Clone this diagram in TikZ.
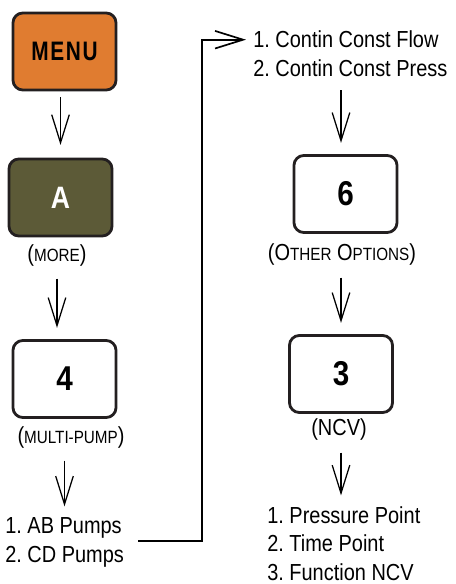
\documentclass[tikz,border=0pt]{standalone}
\usepackage{fontspec}
\setmainfont{Liberation Sans}[FakeStretch=0.86]
\newfontfamily\menufont{Liberation Sans}[FakeStretch=0.78, LetterSpace=6]
\usetikzlibrary{arrows.meta}
\definecolor{orangemenu}{HTML}{E07C30}
\definecolor{vertolive}{HTML}{5C5A37}
\definecolor{bord}{HTML}{231F20}
\newcommand{\petitcap}[1]{{\fontsize{12.6}{14}\selectfont #1}}
\frenchspacing

\begin{document}
\begin{tikzpicture}[
    x=0.025cm, y=-0.025cm,
    touche/.style={draw=bord, line width=2pt, rounded corners=7pt, fill=white,
                   minimum width=2.575cm, minimum height=1.925cm, inner sep=0pt,
                   font=\bfseries\fontsize{24.5}{24.5}\selectfont},
    legende/.style={anchor=base, inner sep=0pt, font=\fontsize{16.5}{20}\selectfont},
    liste/.style={anchor=base west, align=left, inner sep=0pt,
                  font=\fontsize{16.5}{20}\selectfont},
    fleche/.style={-{Straight Barb[length=20pt, width=12.5pt]}, line width=0.9pt,
                   shorten <=9pt, shorten >=8pt},
    lien/.style={fleche, line width=1.2pt}
]
    \useasboundingbox (0,0) rectangle (455,584);

    % colonne gauche
    \node[touche, fill=orangemenu] (menu) at (64.5,51.5)
        {\menufont\bfseries\fontsize{19}{19}\selectfont MENU};
    \node[touche, fill=vertolive, text=white] (a) at (60.5,197.5) {\fontsize{22}{22}\selectfont A};
    \node[legende] (more) at (57,261) {(\petitcap{MORE})};
    \node[touche] (quatre) at (64.5,379) {4};
    \node[legende] (multi) at (71,443) {(\petitcap{MULTI-PUMP})};
    \node[liste] (pompes) at (5,562) {1. AB Pumps\\2. CD Pumps};

    % colonne droite
    \node[liste] (flux) at (253,48) {1. Contin Const Flow};
    \node[liste] (press) at (253,77) {2. Contin Const Press};
    \node[touche] (six) at (345.5,194) {6};
    \node[legende] (autres) at (342,260) {(O\petitcap{THER} O\petitcap{PTIONS})};
    \node[touche] (trois) at (341,374) {3};
    \node[legende] (ncv) at (339,435) {(NCV)};
    \node[liste] (points) at (267,580) {1. Pressure Point\\2. Time Point\\3. Function NCV};

    \draw[fleche, shorten <=4pt, shorten >=9pt] (a.north |- menu.south) -- (a.north);
    \draw[fleche] (more.south) -- (more.south |- quatre.north);
    \draw[fleche] (quatre.south |- multi.south) -- (quatre.south |- pompes.north);
    \draw[fleche] (trois.north |- press.south) -- (trois.north |- six.north);
    \draw[fleche] (trois.north |- autres.south) -- (trois.north);
    \draw[fleche] (trois.south |- ncv.south) -- (trois.south |- points.north);

    \coordinate (coude) at (202,541);
    \draw[lien, shorten <=10pt, shorten >=5pt] (pompes.east |- coude) -- (coude) |- (flux.west);
\end{tikzpicture}
\end{document}
